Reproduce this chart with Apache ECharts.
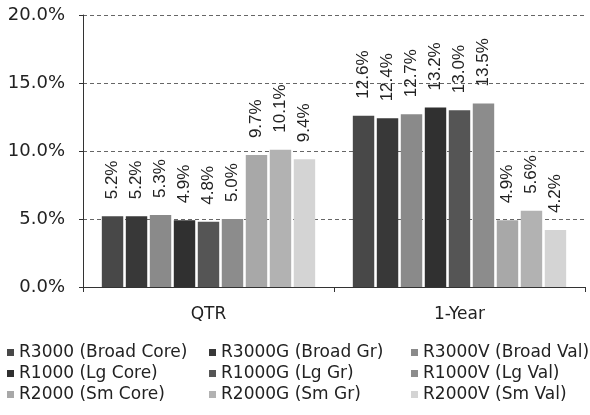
<!DOCTYPE html>
<html><head><meta charset="utf-8">
<script src="https://cdn.jsdelivr.net/npm/echarts@6/dist/echarts.min.js"></script>
<style>html,body{margin:0;padding:0;background:#fff}#c{width:590px;height:415px}</style>
</head><body><div id="c"></div>
<script>
var categories = ['QTR', '1-Year'];
var seriesNames = ['R3000 (Broad Core)', 'R3000G (Broad Gr)', 'R3000V (Broad Val)',
  'R1000 (Lg Core)', 'R1000G (Lg Gr)', 'R1000V (Lg Val)',
  'R2000 (Sm Core)', 'R2000G (Sm Gr)', 'R2000V (Sm Val)'];
var r3000 = [5.2, 12.6];
var r3000g = [5.2, 12.4];
var r3000v = [5.3, 12.7];
var r1000 = [4.9, 13.2];
var r1000g = [4.8, 13.0];
var r1000v = [5.0, 13.5];
var r2000 = [9.7, 4.9];
var r2000g = [10.1, 5.6];
var r2000v = [9.4, 4.2];
var yTicks = [0, 5, 10, 15, 20];
var colors = ['#484848', '#383838', '#8a8a8a', '#303030', '#555555', '#8c8c8c', '#a8a8a8', '#b2b2b2', '#d4d4d4'];
var allData = [r3000, r3000g, r3000v, r1000, r1000g, r1000v, r2000, r2000g, r2000v];
var font = 'DejaVu Sans';
var series = allData.map(function (d, i) {
  return {
    name: seriesNames[i], type: 'bar', data: d,
    barGap: '12%', barCategoryGap: '15%',
    itemStyle: { color: colors[i] },
    label: { show: true, position: 'top', rotate: 90, align: 'left', verticalAlign: 'middle',
      distance: 17, fontSize: 17, fontFamily: 'Liberation Sans', color: '#222',
      formatter: function (p) { return p.value.toFixed(1) + '%'; } }
  };
});
function mkLegend(idx, left) {
  return {
    data: idx.map(function (i) { return seriesNames[i]; }),
    left: left, top: 339, orient: 'vertical', padding: 5,
    itemWidth: 7, itemHeight: 7, itemGap: 4, icon: 'rect',
    textStyle: { fontFamily: font, fontSize: 17, color: '#222' }
  };
}
var chart = echarts.init(document.getElementById('c'));
chart.setOption({
  animation: false,
  color: colors,
  grid: { left: 83, right: 5, top: 15, bottom: 128 },
  legend: [mkLegend([0, 3, 6], 2), mkLegend([1, 4, 7], 204), mkLegend([2, 5, 8], 406)],
  xAxis: {
    type: 'category', data: categories,
    axisLine: { lineStyle: { color: '#333' } },
    axisTick: { show: true, length: 5, lineStyle: { color: '#333' } },
    axisLabel: { fontFamily: font, fontSize: 17, color: '#222', margin: 19 }
  },
  yAxis: {
    type: 'value', min: 0, max: 20, interval: 5,
    axisLine: { show: true, lineStyle: { color: '#333' } },
    axisTick: { show: true, length: 4, lineStyle: { color: '#333' } },
    splitLine: { lineStyle: { color: '#666', type: [4, 3], width: 1 } },
    axisLabel: { fontFamily: font, fontSize: 18, color: '#222', margin: 18,
      formatter: function (v) { return v.toFixed(1) + '%'; } }
  },
  series: series
});
</script></body></html>
